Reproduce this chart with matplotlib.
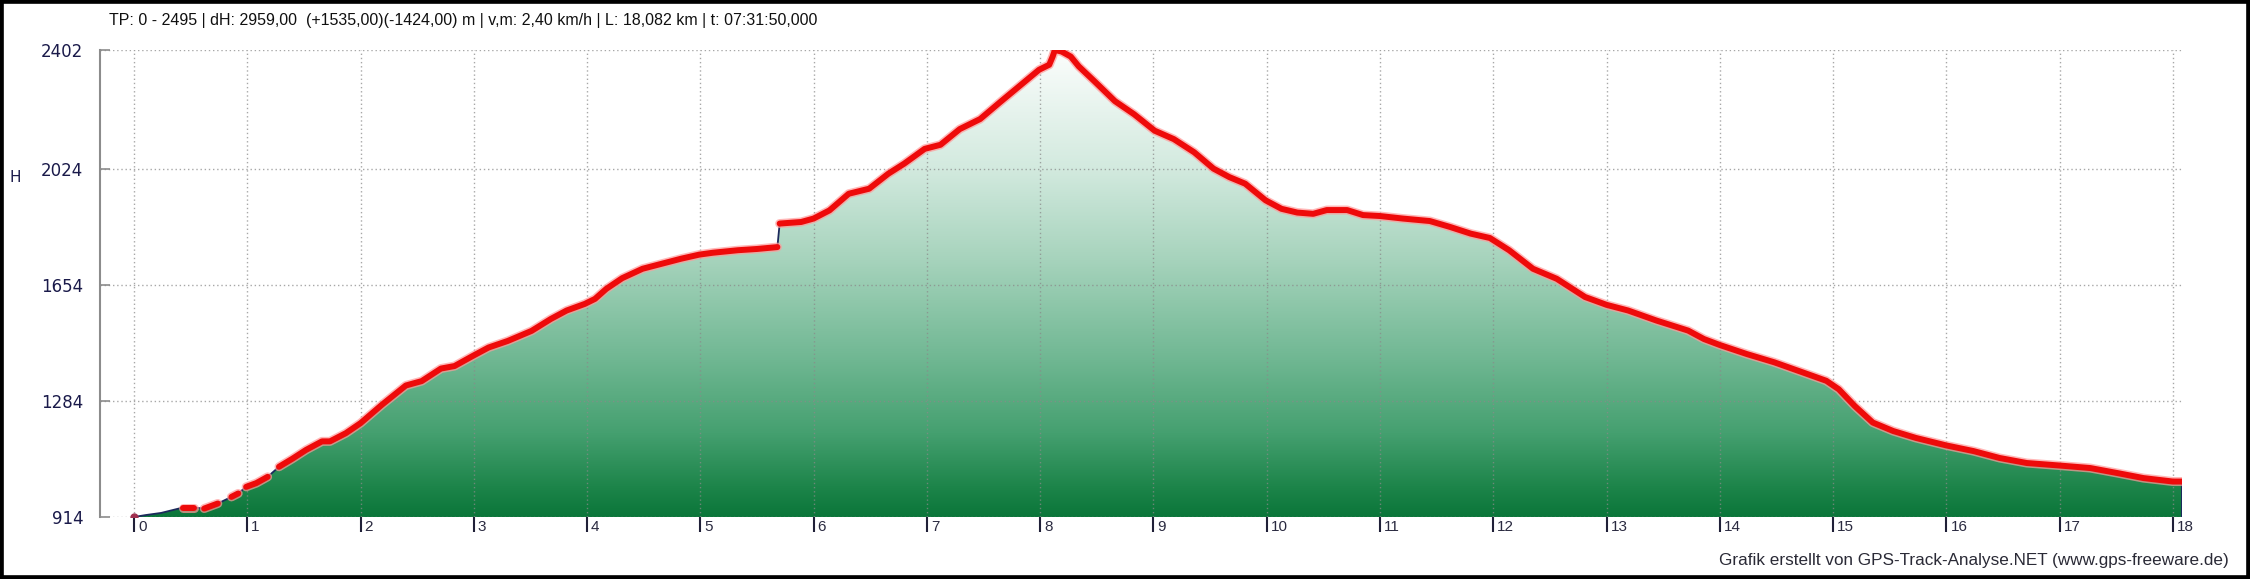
import numpy as np
import matplotlib
matplotlib.use("Agg")
import matplotlib.pyplot as plt
from matplotlib.colors import LinearSegmentedColormap
from matplotlib.patches import Polygon, Rectangle
from matplotlib import font_manager

# ---------------- data ----------------
dist_km = [0, 0.10, 0.24, 0.43, 0.53, 0.62, 0.74, 0.86, 0.92, 0.99,
           1.08, 1.18, 1.28, 1.40, 1.52, 1.66, 1.73, 1.87, 2.00, 2.19,
           2.40, 2.54, 2.71, 2.83, 2.99, 3.13, 3.30, 3.51, 3.68, 3.82,
           3.98, 4.07, 4.17, 4.31, 4.49, 4.66, 4.83, 4.99, 5.11, 5.33,
           5.50, 5.68, 5.70, 5.89, 6.00, 6.14, 6.31, 6.49, 6.66, 6.80,
           6.98, 7.12, 7.29, 7.47, 7.64, 7.85, 7.99, 8.08, 8.11, 8.13,
           8.19, 8.27, 8.34, 8.48, 8.66, 8.83, 9.01, 9.18, 9.36, 9.53,
           9.67, 9.81, 9.99, 10.13, 10.27, 10.41, 10.53, 10.71, 10.85, 11.00,
           11.20, 11.44, 11.62, 11.80, 11.97, 12.14, 12.35, 12.56, 12.81, 13.00,
           13.19, 13.44, 13.72, 13.86, 14.00, 14.24, 14.48, 14.73, 14.94, 15.05,
           15.19, 15.35, 15.53, 15.73, 16.00, 16.24, 16.47, 16.71, 17.00, 17.27,
           17.51, 17.74, 18.00, 18.08]
elev_m = [914, 920, 927, 944, 944, 941, 957, 978, 989, 1010,
          1022, 1042, 1074, 1100, 1128, 1155, 1155, 1181, 1213, 1272,
          1333, 1347, 1387, 1395, 1427, 1454, 1475, 1507, 1545, 1572,
          1593, 1609, 1641, 1675, 1705, 1721, 1737, 1750, 1756, 1764,
          1768, 1774, 1849, 1854, 1865, 1891, 1944, 1960, 2008, 2040,
          2087, 2100, 2150, 2182, 2234, 2297, 2339, 2355, 2381, 2402,
          2397, 2381, 2350, 2302, 2239, 2197, 2145, 2118, 2076, 2024,
          1997, 1976, 1923, 1896, 1884, 1880, 1892, 1892, 1876, 1873,
          1865, 1857, 1838, 1817, 1803, 1764, 1705, 1673, 1615, 1590,
          1572, 1540, 1508, 1481, 1462, 1433, 1407, 1375, 1348, 1321,
          1268, 1215, 1188, 1166, 1142, 1124, 1102, 1086, 1078, 1070,
          1054, 1038, 1027, 1027]
# sections of the track drawn with the red marker line
red_sections = [(0.43, 0.53), (0.62, 0.74), (0.86, 0.92), (0.99, 1.18),
                (1.28, 5.68), (5.70, 18.08)]
y_ticks = [914, 1284, 1654, 2024, 2402]
x_ticks = list(range(0, 19))
x_tick_labels = [str(v) for v in x_ticks]
title_text = ("TP: 0 - 2495 | dH: 2959,00  (+1535,00)(-1424,00) m | v,m: 2,40 km/h "
              "| L: 18,082 km | t: 07:31:50,000")
credit_text = "Grafik erstellt von GPS-Track-Analyse.NET (www.gps-freeware.de)"
y_label = "H"

# ---------------- fonts ----------------
def pick(names):
    for n in names:
        try:
            font_manager.findfont(n, fallback_to_default=False)
            return n
        except Exception:
            pass
    return "DejaVu Sans"

narrow = pick(["Liberation Sans Narrow", "Liberation Sans"])

W, H = 2250, 579
fig = plt.figure(figsize=(W / 100, H / 100), dpi=100)
fig.patch.set_facecolor("white")

ax_l, ax_r, ax_t, ax_b = 100, 2182, 50, 517
ax = fig.add_axes([ax_l / W, 1 - ax_b / H, (ax_r - ax_l) / W, (ax_b - ax_t) / H])
ax.set_facecolor("white")

xmin, xmax = -0.30, 18.08
ymin, ymax = 914, 2402

x = np.array(dist_km)
y = np.array(elev_m)

# gradient fill under the profile
cmap = LinearSegmentedColormap.from_list(
    "g", [(0.0, "#0b763a"), (0.06, "#1c8449"), (0.18, "#45a070"),
          (0.35, "#73b995"), (0.55, "#a6d3bc"), (0.75, "#d3eadf"),
          (1.0, "#fbfdfc")])
grad = np.linspace(0, 1, 512).reshape(-1, 1)
verts = np.column_stack([np.r_[x, x[-1], x[0]], np.r_[y, ymin, ymin]])
poly = Polygon(verts, closed=True, facecolor="none", edgecolor="none")
ax.add_patch(poly)
im = ax.imshow(grad, extent=[xmin, xmax, ymin, ymax], origin="lower",
               aspect="auto", cmap=cmap, zorder=1, interpolation="bilinear")
im.set_clip_path(poly)

# grid
for xv in x_ticks:
    ax.axvline(xv, color="#8a8a8a", lw=1.0, ls=(0, (1, 2)), zorder=2, alpha=0.75)
for yv in y_ticks:
    ax.axhline(yv, color="#8a8a8a", lw=1.0, ls=(0, (1, 2)), zorder=2, alpha=0.75)

# thin outline of the profile
ax.plot(x, y, color="#1c2a5c", lw=1.3, zorder=3)
ax.plot([x[-1], x[-1]], [y[-1], ymin], color="#1c2a5c", lw=1.5, zorder=3)

# red track line
for a, b in red_sections:
    m = (x >= a - 1e-9) & (x <= b + 1e-9)
    ax.plot(x[m], y[m], color="#ff9a9a", lw=6.5, zorder=4,
            solid_capstyle="round", solid_joinstyle="round", alpha=0.7)
    ax.plot(x[m], y[m], color="#ee0a0a", lw=4.3, zorder=5,
            solid_capstyle="round", solid_joinstyle="round")
ax.plot([x[0]], [y[0]], marker="o", ms=5, color="#a03050", zorder=5)

ax.set_xlim(xmin, xmax)
ax.set_ylim(ymin, ymax)

for s in ["top", "right", "bottom"]:
    ax.spines[s].set_visible(False)
ax.spines["left"].set_color("#8c8c8c")
ax.spines["left"].set_linewidth(1.5)

ax.set_yticks(y_ticks)
ax.set_yticklabels([str(v) for v in y_ticks], fontsize=12, color="#1a1a4a",
                   family="DejaVu Sans")
ax.tick_params(axis="y", direction="in", length=7, width=1.2, color="#8c8c8c", pad=12)

ax.set_xticks(x_ticks)
ax.set_xticklabels([""] * len(x_ticks))
ax.tick_params(axis="x", direction="out", length=10.5, width=1.5, color="#202038", pad=0)

for xv, lab in zip(x_ticks, x_tick_labels):
    ax.annotate(lab, xy=(xv, 0), xycoords=("data", "axes fraction"),
                xytext=(4, -3), textcoords="offset pixels", ha="left", va="top",
                fontsize=11, color="#2a2a40", family=[narrow, "DejaVu Sans"])

fig.text(109 / W, 1 - 20 / H, title_text, ha="left", va="center",
         fontsize=11.5, color="#101010", family=[narrow, "DejaVu Sans"])
fig.text(2229 / W, 1 - 561 / H, credit_text, ha="right", va="center",
         fontsize=12.3, color="#2a2a36", family=[narrow, "DejaVu Sans"])
fig.text(15 / W, 1 - 177 / H, y_label, ha="center", va="center",
         fontsize=11, color="#1a1a4a", family="DejaVu Sans")

# outer frame
fig.patches.append(Rectangle((0, 0), 1, 1, transform=fig.transFigure,
                             fill=False, edgecolor="black", lw=5.5, zorder=10))

fig.savefig("out.png", dpi=100, facecolor="white")
